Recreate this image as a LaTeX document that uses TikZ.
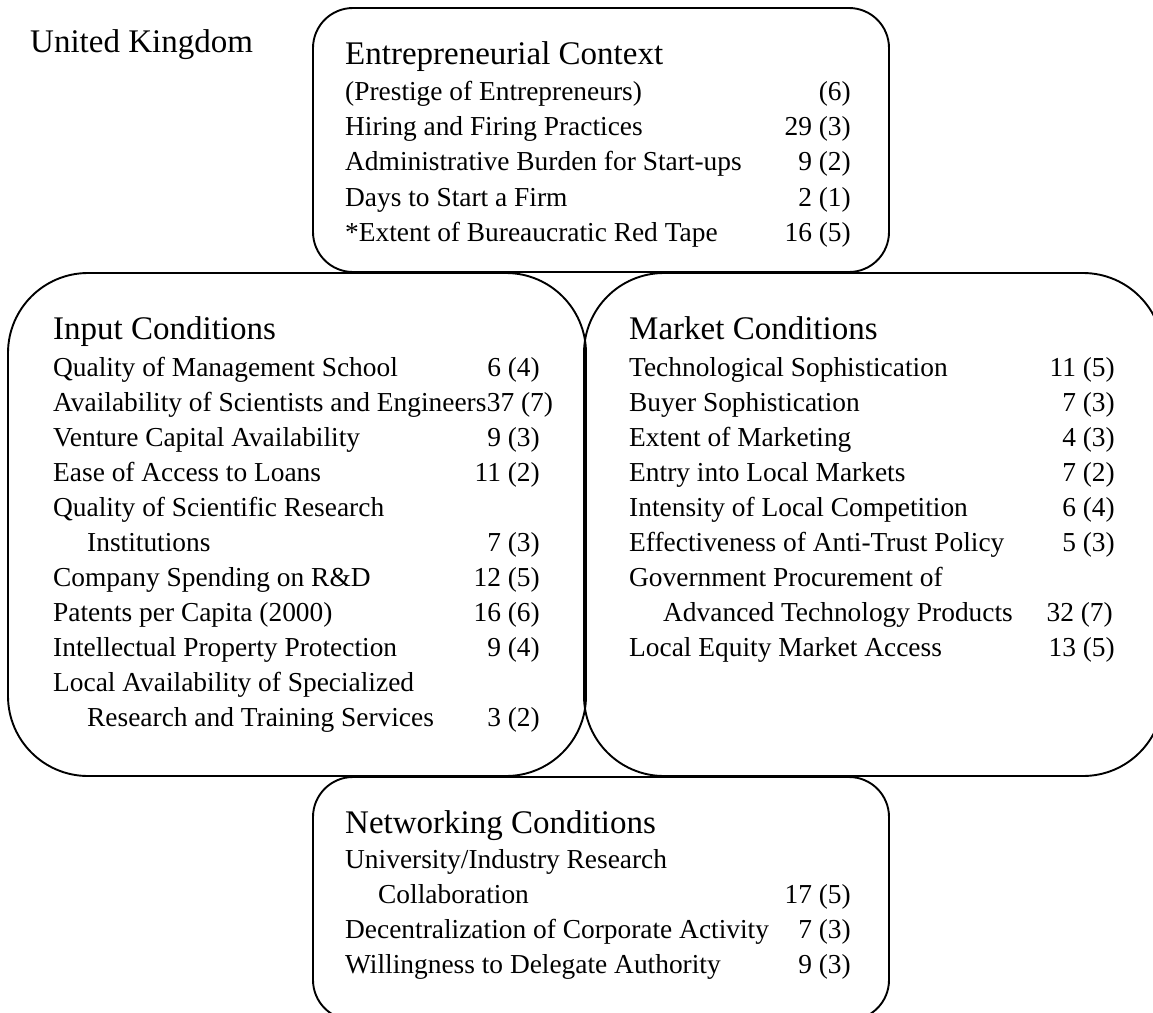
\documentclass[tikz,border=0pt]{standalone}
\usepackage{fontspec}
\setmainfont{Liberation Serif}
\newcommand{\itemsize}{\fontsize{27.4}{35}\selectfont}
\newcommand{\headsize}{\fontsize{33}{40}\selectfont}
\tikzset{
  panel/.style={draw=black, line width=1.9pt},
  lbl/.style={anchor=base west, inner sep=0pt, font=\itemsize},
  num/.style={anchor=base east, inner sep=0pt, font=\itemsize},
  head/.style={anchor=base west, inner sep=0pt, font=\headsize},
}
% one line of a panel: name, left x, right x, baseline, label, score
\newcommand{\panelrow}[6]{%
  \node[lbl] (#1) at (#2,#4) {#5};
  \node[num] (#1n) at (#3,#4) {#6};}
\begin{document}
\begin{tikzpicture}[x=1pt,y=-1pt]
\useasboundingbox (0,0) rectangle (1153,1012);
\clip (0,0) rectangle (1153,1012);

% panels
\draw[panel, rounded corners=40pt] (313,8) rectangle (889,272);
\draw[panel, rounded corners=80pt] (8,273) rectangle (586,776);
\draw[panel, rounded corners=80pt] (584,273) rectangle (1163,776);
\draw[panel, rounded corners=40pt] (313,777) rectangle (889,1020);

% country
\node[head] (country) at (30,52) {United Kingdom};

% Entrepreneurial Context
\node[head] (enttitle) at (345,64) {Entrepreneurial Context};
\panelrow{e1}{345}{851}{100}{(Prestige of Entrepreneurs)}{(6)}
\panelrow{e2}{345}{851}{135}{Hiring and Firing Practices}{29 (3)}
\panelrow{e3}{345}{851}{170}{Administrative Burden for Start-ups}{9 (2)}
\panelrow{e4}{345}{851}{206}{Days to Start a Firm}{2 (1)}
\panelrow{e5}{345}{851}{241}{*Extent of Bureaucratic Red Tape}{16 (5)}

% Input Conditions
\node[head] (intitle) at (53,339) {Input Conditions};
\panelrow{i1}{53}{540}{376}{Quality of Management School}{6 (4)}
\node[lbl] (i2) at (53,411) {Availability of Scientists and Engineers};
\node[lbl, anchor=base west] (i2n) at (i2.base east) {37 (7)};
\panelrow{i3}{53}{540}{446}{Venture Capital Availability}{9 (3)}
\panelrow{i4}{53}{540}{481}{Ease of Access to Loans}{11 (2)}
\node[lbl] (i5) at (53,516) {Quality of Scientific Research};
\panelrow{i6}{87}{540}{551}{Institutions}{7 (3)}
\panelrow{i7}{53}{540}{586}{Company Spending on R\&D}{12 (5)}
\panelrow{i8}{53}{540}{621}{Patents per Capita (2000)}{16 (6)}
\panelrow{i9}{53}{540}{656}{Intellectual Property Protection}{9 (4)}
\node[lbl] (i10) at (53,691) {Local Availability of Specialized};
\panelrow{i11}{87}{540}{726}{Research and Training Services}{3 (2)}

% Market Conditions
\node[head] (mktitle) at (629,339) {Market Conditions};
\panelrow{m1}{629}{1115}{376}{Technological Sophistication}{11 (5)}
\panelrow{m2}{629}{1115}{411}{Buyer Sophistication}{7 (3)}
\panelrow{m3}{629}{1115}{446}{Extent of Marketing}{4 (3)}
\panelrow{m4}{629}{1115}{481}{Entry into Local Markets}{7 (2)}
\panelrow{m5}{629}{1115}{516}{Intensity of Local Competition}{6 (4)}
\panelrow{m6}{629}{1115}{551}{Effectiveness of Anti-Trust Policy}{5 (3)}
\node[lbl] (m7) at (629,586) {Government Procurement of};
\panelrow{m8}{663}{1113}{621}{Advanced Technology Products}{32 (7)}
\panelrow{m9}{629}{1115}{656}{Local Equity Market Access}{13 (5)}

% Networking Conditions
\node[head] (nettitle) at (345,833) {Networking Conditions};
\node[lbl] (n1) at (345,868) {University/Industry Research};
\panelrow{n2}{378}{851}{903}{Collaboration}{17 (5)}
\panelrow{n3}{345}{851}{938}{Decentralization of Corporate Activity}{7 (3)}
\panelrow{n4}{345}{851}{973}{Willingness to Delegate Authority}{9 (3)}
\end{tikzpicture}
\end{document}
